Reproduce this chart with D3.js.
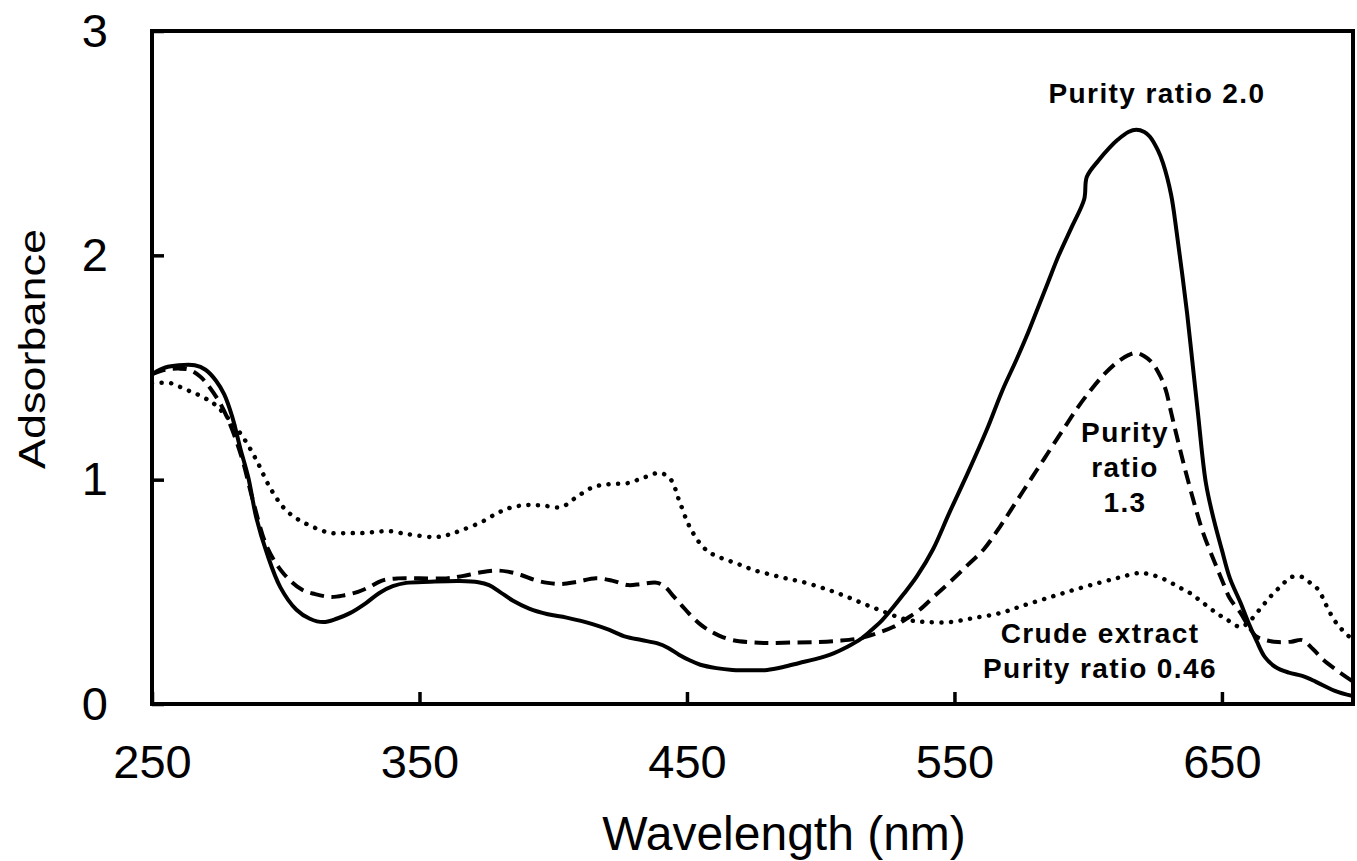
<!DOCTYPE html>
<html>
<head>
<meta charset="utf-8">
<script src="https://cdn.jsdelivr.net/npm/d3@7"></script>
<style>
  html, body { margin: 0; padding: 0; background: #fff; }
</style>
</head>
<body>
<svg id="chart" width="1357" height="861"></svg>
<script>
const fontFamily = "'Liberation Sans', Arial, Helvetica, sans-serif";

// Purity ratio 2.0 (solid)
const wlSolid = [250,255,260,266,270,274,277,280,283,286,289,293,298,304,309,314,319,324,330,335,340,345,354,365,372,376,380,385,391,398,405,415,421,427,433,439,443,447,451,455,461,467,474,480,486,492,498,505,510,515,519,523,527,531,536,542,548,555,562,568,573,577,581,585,589,594,598.5,599.5,604,608,611,615,618,621,623,626,628,631,633,635,637,639,641,644,647,650,653,657,660,663,666,670,675,680,685,692,699];
const absSolid = [1.47,1.50,1.51,1.51,1.49,1.44,1.38,1.28,1.14,1.01,0.83,0.67,0.52,0.42,0.38,0.365,0.38,0.405,0.45,0.495,0.525,0.54,0.545,0.548,0.543,0.53,0.50,0.46,0.425,0.40,0.385,0.355,0.33,0.30,0.285,0.27,0.25,0.22,0.195,0.175,0.16,0.152,0.15,0.152,0.165,0.183,0.20,0.227,0.255,0.29,0.33,0.374,0.43,0.49,0.57,0.69,0.85,1.03,1.22,1.40,1.53,1.64,1.76,1.88,2.00,2.13,2.25,2.35,2.425,2.48,2.515,2.55,2.56,2.55,2.53,2.47,2.41,2.27,2.11,1.93,1.74,1.52,1.30,0.985,0.82,0.686,0.56,0.45,0.36,0.28,0.21,0.165,0.14,0.125,0.10,0.06,0.035];

// Purity ratio 1.3 (dashed)
const wlDashed = [250,255,260,264,268,271,275,278,281,284,288,293,299,306,311,317,322,327,331,336,342,350,360,366,372,378,383,388,393,398,403,409,416,422,428,433,439,442,445,448,451,455,458,462,467,474,480,490,499,507,515,521,527,532,537,542,548,555,561,567,573,579,585,591,596,601,606,611,615,618,621,624,627,629,631,633,636,640,643,647,650,653,657,660,663,667,671,676,680,684,688,693,699];
const absDashed = [1.47,1.49,1.495,1.49,1.46,1.42,1.35,1.28,1.19,1.08,0.895,0.70,0.584,0.51,0.49,0.477,0.485,0.50,0.52,0.55,0.56,0.56,0.56,0.57,0.585,0.595,0.59,0.575,0.553,0.54,0.535,0.545,0.56,0.55,0.53,0.535,0.54,0.52,0.48,0.44,0.40,0.355,0.33,0.305,0.285,0.275,0.272,0.274,0.276,0.282,0.294,0.315,0.343,0.38,0.42,0.475,0.54,0.62,0.69,0.79,0.90,1.01,1.12,1.23,1.32,1.40,1.47,1.525,1.555,1.565,1.55,1.52,1.46,1.40,1.30,1.20,1.056,0.88,0.762,0.64,0.553,0.47,0.405,0.345,0.30,0.283,0.276,0.278,0.285,0.245,0.196,0.15,0.10];

// Crude extract, purity ratio 0.46 (dotted)
const wlDotted = [250,257,262,267,271,274,279,284,289,294,299,303,307,312,317,323,329,334,339,344,348,356,361,366,373,379,384,390,396,403,409,415,421,428,434,440,444,447,451,456,460,465,470,475,481,487,493,500,505,510,515,520,525,530,535,540,548,557,567,576,586,595,604,612,619,624,629,634,638,643,648,652,657,660,664,668,672,676,680,683,686,689,692,695,699];
const absDotted = [1.43,1.43,1.405,1.38,1.355,1.33,1.266,1.19,1.088,0.967,0.878,0.835,0.807,0.78,0.762,0.762,0.762,0.768,0.77,0.76,0.753,0.744,0.755,0.776,0.81,0.85,0.875,0.887,0.885,0.878,0.925,0.967,0.98,0.985,1.01,1.03,1.00,0.91,0.79,0.70,0.665,0.642,0.62,0.597,0.578,0.56,0.545,0.52,0.50,0.477,0.452,0.428,0.405,0.383,0.37,0.365,0.365,0.383,0.405,0.44,0.477,0.51,0.54,0.565,0.584,0.575,0.553,0.52,0.495,0.45,0.405,0.375,0.343,0.365,0.42,0.477,0.525,0.566,0.566,0.54,0.51,0.44,0.374,0.33,0.285];

const xTicks = [250, 350, 450, 550, 650];
const yTicks = [0, 1, 2, 3];

const svg = d3.select("#chart");
const margin = {left: 152, top: 31, right: 1353, bottom: 704};

const x = d3.scaleLinear().domain([250, 699]).range([margin.left, margin.right]);
const y = d3.scaleLinear().domain([0, 3]).range([margin.bottom, margin.top]);

svg.append("rect").attr("width", 1357).attr("height", 861).attr("fill", "#fff");

// clip the curves to the frame
svg.append("defs").append("clipPath").attr("id", "plot-clip")
  .append("rect")
  .attr("x", margin.left).attr("y", margin.top)
  .attr("width", margin.right - margin.left).attr("height", margin.bottom - margin.top);

const line = d3.line()
  .x(d => x(d[0]))
  .y(d => y(d[1]))
  .curve(d3.curveCatmullRom.alpha(0.5));

const series = [
  {wl: wlDotted, abs: absDotted, dash: "0.1 9.5", width: 4.5, cap: "round"},
  {wl: wlDashed, abs: absDashed, dash: "14 7.5", width: 4, cap: "butt"},
  {wl: wlSolid, abs: absSolid, dash: null, width: 4, cap: "round"}
];

const plot = svg.append("g").attr("clip-path", "url(#plot-clip)");
series.forEach(s => {
  plot.append("path")
    .datum(s.wl.map((w, i) => [w, s.abs[i]]))
    .attr("d", line)
    .attr("fill", "none")
    .attr("stroke", "#000")
    .attr("stroke-width", s.width)
    .attr("stroke-linecap", s.cap)
    .attr("stroke-linejoin", "round")
    .attr("stroke-dasharray", s.dash);
});

// Axes with inward ticks
const xAxis = svg.append("g")
  .attr("transform", `translate(0,${margin.bottom})`)
  .call(d3.axisBottom(x).tickValues(xTicks).tickSizeInner(-12).tickSizeOuter(0).tickPadding(41));
const yAxis = svg.append("g")
  .attr("transform", `translate(${margin.left},0)`)
  .call(d3.axisLeft(y).tickValues(yTicks).tickSizeInner(-12).tickSizeOuter(0).tickPadding(44).tickFormat(d3.format("d")));

[xAxis, yAxis].forEach(g => {
  g.select(".domain").remove();
  g.selectAll(".tick line").attr("stroke", "#000").attr("stroke-width", 3.5);
  g.selectAll(".tick text")
    .attr("font-family", fontFamily)
    .attr("font-size", "47px")
    .attr("fill", "#000");
});

// frame
svg.append("rect")
  .attr("x", margin.left).attr("y", margin.top)
  .attr("width", margin.right - margin.left).attr("height", margin.bottom - margin.top)
  .attr("fill", "none")
  .attr("stroke", "#000")
  .attr("stroke-width", 4);

// Axis titles
svg.append("text")
  .attr("x", 784).attr("y", 850)
  .attr("text-anchor", "middle")
  .attr("font-family", fontFamily)
  .attr("font-size", "48px")
  .attr("fill", "#000")
  .text("Wavelength (nm)");

svg.append("text")
  .attr("transform", "translate(45,349) rotate(-90) scale(1,0.82)")
  .attr("text-anchor", "middle")
  .attr("font-family", fontFamily)
  .attr("font-size", "45px")
  .attr("fill", "#000")
  .text("Adsorbance");

// Annotations
const labels = [
  {text: "Purity ratio 2.0", x: 1157, y: 103},
  {text: "Purity", x: 1125, y: 442},
  {text: "ratio", x: 1125, y: 477},
  {text: "1.3", x: 1125, y: 512},
  {text: "Crude extract", x: 1100, y: 643},
  {text: "Purity ratio 0.46", x: 1100, y: 678}
];

svg.selectAll("text.note")
  .data(labels)
  .enter()
  .append("text")
  .attr("class", "note")
  .attr("x", d => d.x)
  .attr("y", d => d.y)
  .attr("text-anchor", "middle")
  .attr("font-family", fontFamily)
  .attr("font-size", "28px")
  .attr("font-weight", "700")
  .attr("letter-spacing", "1.4px")
  .attr("fill", "#000")
  .text(d => d.text);
</script>
</body>
</html>
